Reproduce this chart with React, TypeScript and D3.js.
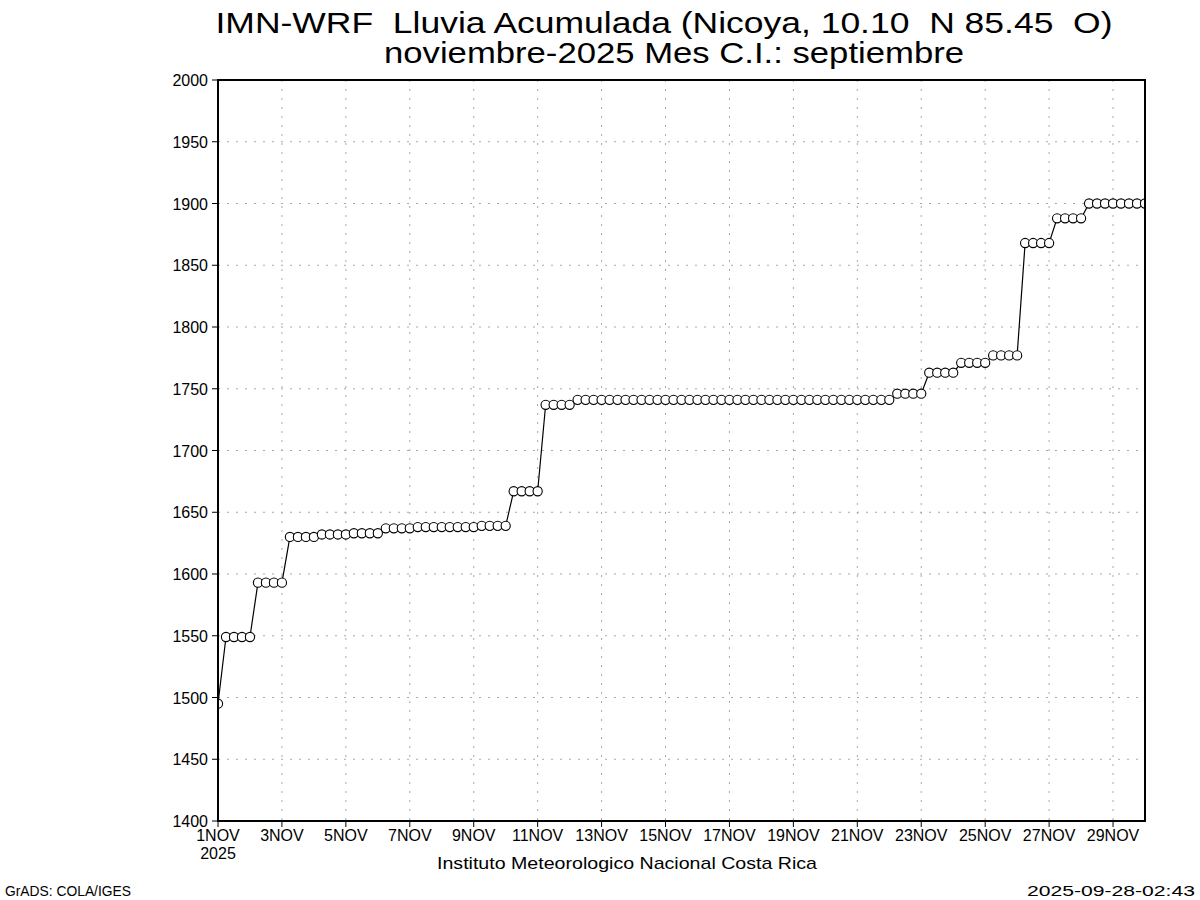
import React from "react";
import * as d3 from "d3";

const TITLE_1 = "IMN-WRF  Lluvia Acumulada (Nicoya, 10.10  N 85.45  O)";
const TITLE_2 = "noviembre-2025 Mes C.I.: septiembre";
const FOOT_CENTER = "Instituto Meteorologico Nacional Costa Rica";
const FOOT_LEFT = "GrADS: COLA/IGES";
const FOOT_RIGHT = "2025-09-28-02:43";

const START = new Date(Date.UTC(2025, 10, 1, 0));
const END = new Date(Date.UTC(2025, 10, 30, 0));
const STEP_HOURS = 6;

// accumulated rainfall, every 6 hours from 1NOV 00Z
const rain: number[] = [
  1495,
  1549, 1549, 1549, 1549,
  1593, 1593, 1593, 1593,
  1630, 1630, 1630, 1630,
  1632, 1632, 1632, 1632,
  1633, 1633, 1633, 1633,
  1637, 1637, 1637, 1637,
  1638, 1638, 1638, 1638, 1638, 1638, 1638, 1638,
  1639, 1639, 1639, 1639,
  1667, 1667, 1667, 1667,
  1737, 1737, 1737, 1737,
  1741, 1741, 1741, 1741, 1741, 1741, 1741, 1741,
  1741, 1741, 1741, 1741, 1741, 1741, 1741, 1741,
  1741, 1741, 1741, 1741, 1741, 1741, 1741, 1741,
  1741, 1741, 1741, 1741, 1741, 1741, 1741, 1741,
  1741, 1741, 1741, 1741, 1741, 1741, 1741, 1741,
  1746, 1746, 1746, 1746,
  1763, 1763, 1763, 1763,
  1771, 1771, 1771, 1771,
  1777, 1777, 1777, 1777,
  1868, 1868, 1868, 1868,
  1888, 1888, 1888, 1888,
  1900, 1900, 1900, 1900, 1900, 1900, 1900, 1900,
];

const yTicks = [1400, 1450, 1500, 1550, 1600, 1650, 1700, 1750, 1800, 1850, 1900, 1950, 2000];
const xTickDays = [1, 3, 5, 7, 9, 11, 13, 15, 17, 19, 21, 23, 25, 27, 29];

const W = 1200, H = 900;
const L = 218, R = 1145, T = 80, B = 821;

export default function App() {
  const x = d3.scaleUtc().domain([START, END]).range([L, R]);
  const y = d3.scaleLinear().domain([1400, 2000]).range([B, T]);
  const pts = rain.map((v, i) => ({
    t: new Date(START.getTime() + i * STEP_HOURS * 3600 * 1000),
    v,
  }));
  const line = d3
    .line<{ t: Date; v: number }>()
    .x((d) => x(d.t))
    .y((d) => y(d.v));
  const font = "'Liberation Sans', Arial, sans-serif";
  const grid = "#a8a8a8";

  return (
    <svg
      width={W}
      height={H}
      style={{ position: "absolute", left: 0, top: 0, background: "#fff" }}
      fontFamily={font}
    >
      <rect x={0} y={0} width={W} height={H} fill="#fff" />
      <defs>
        <clipPath id="plot">
          <rect x={L} y={T} width={R - L} height={B - T} />
        </clipPath>
      </defs>
      {/* grid */}
      {yTicks.map((v) => (
        <line
          key={"gy" + v}
          x1={L}
          x2={R}
          y1={y(v)}
          y2={y(v)}
          stroke={grid}
          strokeWidth={1}
          strokeDasharray="2,7"
        />
      ))}
      {xTickDays.map((d) => {
        const xx = x(new Date(Date.UTC(2025, 10, d)));
        return (
          <line
            key={"gx" + d}
            x1={xx}
            x2={xx}
            y1={T}
            y2={B}
            stroke={grid}
            strokeWidth={1}
            strokeDasharray="2,7"
          />
        );
      })}
      {/* data */}
      <g clipPath="url(#plot)">
        <path d={line(pts) || ""} fill="none" stroke="#000" strokeWidth={1.2} />
        {pts.map((p, i) => (
          <circle
            key={i}
            cx={x(p.t)}
            cy={y(p.v)}
            r={4.6}
            fill="#fff"
            stroke="#000"
            strokeWidth={1.1}
          />
        ))}
      </g>
      {/* frame */}
      <rect x={L} y={T} width={R - L} height={B - T} fill="none" stroke="#000" strokeWidth={2} />
      {/* y axis ticks */}
      {yTicks.map((v) => (
        <g key={"yt" + v}>
          <line x1={L - 6} x2={L} y1={y(v)} y2={y(v)} stroke="#000" strokeWidth={1} />
          <text x={L - 10} y={y(v) + 6} fontSize={16} textAnchor="end" fill="#000">
            {v}
          </text>
        </g>
      ))}
      {/* x axis ticks */}
      {xTickDays.map((d) => {
        const xx = x(new Date(Date.UTC(2025, 10, d)));
        return (
          <g key={"xt" + d}>
            <line x1={xx} x2={xx} y1={B} y2={B + 6} stroke="#000" strokeWidth={1} />
            <text x={xx} y={B + 20} fontSize={16} textAnchor="middle" fill="#000">
              {d + "NOV"}
            </text>
          </g>
        );
      })}
      <text x={L} y={B + 38} fontSize={16} textAnchor="middle" fill="#000">
        2025
      </text>
      {/* titles */}
      <text
        x={664}
        y={33}
        fontSize={29}
        textAnchor="middle"
        textLength={897}
        lengthAdjust="spacingAndGlyphs"
        fill="#000"
        style={{ whiteSpace: "pre" }}
        xmlSpace="preserve"
      >
        {TITLE_1}
      </text>
      <text
        x={674}
        y={63}
        fontSize={29}
        textAnchor="middle"
        textLength={580}
        lengthAdjust="spacingAndGlyphs"
        fill="#000"
      >
        {TITLE_2}
      </text>
      <text x={627} y={869} fontSize={17} textAnchor="middle" textLength={380} lengthAdjust="spacingAndGlyphs" fill="#000">
        {FOOT_CENTER}
      </text>
      <text x={5} y={896} fontSize={14} textLength={126} lengthAdjust="spacingAndGlyphs" fill="#000">
        {FOOT_LEFT}
      </text>
      <text x={1195} y={896} fontSize={14} textAnchor="end" textLength={168} lengthAdjust="spacingAndGlyphs" fill="#000">
        {FOOT_RIGHT}
      </text>
    </svg>
  );
}
